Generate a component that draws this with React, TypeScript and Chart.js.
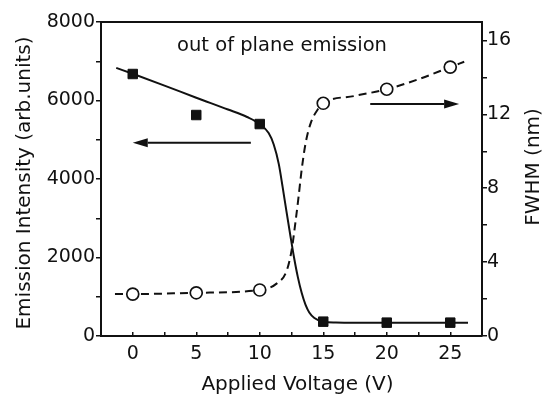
import React, { useEffect, useRef } from 'react';
import { Chart, registerables } from 'chart.js';

Chart.register(...registerables);

// Measured points
const voltage = [0, 5, 10, 15, 20, 25];
const intensity = [6675, 5630, 5400, 365, 340, 340];
const fwhm = [2.27, 2.34, 2.49, 12.6, 13.36, 14.56];

// Guide-to-the-eye curves
const intensityFitX = [-1.3, 0, 2.5, 5, 7.5, 9, 10, 10.7, 11.1, 11.5, 11.8, 12.1, 12.4, 12.7, 13.0, 13.3, 13.6, 13.9, 14.3, 15, 16, 18, 21, 24, 26.4];
const intensityFitY = [6830, 6680, 6380, 6070, 5770, 5580, 5400, 5170, 4880, 4380, 3800, 3180, 2580, 2000, 1500, 1100, 800, 600, 460, 365, 345, 338, 335, 335, 335];
const fwhmFitX = [-1.4, 0, 5, 10, 11.35, 12.1, 12.5, 12.8, 13.05, 13.3, 13.6, 14.0, 14.6, 15, 17.5, 20, 22.5, 25, 26.1];
const fwhmFitY = [2.27, 2.27, 2.34, 2.49, 2.85, 3.5, 4.6, 6.1, 7.5, 9.0, 10.4, 11.5, 12.3, 12.6, 13.0, 13.36, 13.9, 14.56, 14.85];

// Arrows pointing to the axis each series belongs to
const leftArrowX = [9.3, 0];
const leftArrowY = [4925, 4925];
const rightArrowX = [18.7, 25.7];
const rightArrowY = [12.56, 12.56];

const plotTitle = 'out of plane emission';
const xTitle = 'Applied Voltage (V)';
const yTitle = 'Emission Intensity (arb.units)';
const y1Title = 'FWHM (nm)';

const INK = '#111111';
const FONT = '"DejaVu Sans", sans-serif';

function drawArrow(ctx: CanvasRenderingContext2D, x1: number, y1: number, x2: number, y2: number) {
  const ang = Math.atan2(y2 - y1, x2 - x1);
  const headLen = 15;
  const headHalf = 4.5;
  const bx = x2 - headLen * Math.cos(ang);
  const by = y2 - headLen * Math.sin(ang);
  ctx.beginPath();
  ctx.moveTo(x1, y1);
  ctx.lineTo(bx, by);
  ctx.stroke();
  ctx.beginPath();
  ctx.moveTo(x2, y2);
  ctx.lineTo(bx + headHalf * Math.sin(ang), by - headHalf * Math.cos(ang));
  ctx.lineTo(bx - headHalf * Math.sin(ang), by + headHalf * Math.cos(ang));
  ctx.closePath();
  ctx.fill();
}

const decorations = {
  id: 'decorations',
  afterDatasetsDraw(chart: any) {
    const { ctx, chartArea, scales } = chart;
    const { left, right, top, bottom } = chartArea;
    ctx.save();
    ctx.strokeStyle = INK;
    ctx.fillStyle = INK;

    // top frame line
    ctx.lineWidth = 2;
    ctx.beginPath();
    ctx.moveTo(left - 1, top);
    ctx.lineTo(right + 1, top);
    ctx.stroke();

    // arrows
    ctx.lineWidth = 2;
    drawArrow(
      ctx,
      scales.x.getPixelForValue(leftArrowX[0]), scales.y.getPixelForValue(leftArrowY[0]),
      scales.x.getPixelForValue(leftArrowX[1]), scales.y.getPixelForValue(leftArrowY[1])
    );
    drawArrow(
      ctx,
      scales.x.getPixelForValue(rightArrowX[0]), scales.y1.getPixelForValue(rightArrowY[0]),
      scales.x.getPixelForValue(rightArrowX[1]), scales.y1.getPixelForValue(rightArrowY[1])
    );

    // texts
    ctx.textBaseline = 'alphabetic';
    ctx.textAlign = 'center';
    ctx.font = `19.5px ${FONT}`;
    ctx.fillText(plotTitle, left + 181, top + 29);

    ctx.font = `20px ${FONT}`;
    ctx.fillText(xTitle, left + 196.5, bottom + 54);

    const midY = (top + bottom) / 2;
    ctx.save();
    ctx.translate(left - 71.5, midY + 4);
    ctx.rotate(-Math.PI / 2);
    ctx.fillText(yTitle, 0, 0);
    ctx.restore();

    ctx.save();
    ctx.translate(right + 57, midY - 12);
    ctx.rotate(-Math.PI / 2);
    ctx.fillText(y1Title, 0, 0);
    ctx.restore();

    ctx.restore();
  },
};

const toPoints = (xs: number[], ys: number[]) => xs.map((x, i) => ({ x, y: ys[i] }));

export default function App() {
  const canvasRef = useRef<HTMLCanvasElement | null>(null);

  useEffect(() => {
    if (!canvasRef.current) return;
    Chart.defaults.font.family = FONT;
    Chart.defaults.color = INK;

    const chart = new Chart(canvasRef.current, {
      type: 'line',
      data: {
        datasets: [
          {
            label: 'Intensity',
            data: toPoints(voltage, intensity),
            yAxisID: 'y',
            showLine: false,
            pointStyle: 'rect',
            pointRadius: 6.7,
            pointBackgroundColor: INK,
            pointBorderColor: INK,
            pointBorderWidth: 1,
            order: 0,
          },
          {
            label: 'FWHM',
            data: toPoints(voltage, fwhm),
            yAxisID: 'y1',
            showLine: false,
            pointStyle: 'circle',
            pointRadius: 6,
            pointBackgroundColor: '#ffffff',
            pointBorderColor: INK,
            pointBorderWidth: 1.7,
            order: 0,
          },
          {
            label: 'Intensity fit',
            data: toPoints(intensityFitX, intensityFitY),
            yAxisID: 'y',
            borderColor: INK,
            borderWidth: 2,
            pointRadius: 0,
            cubicInterpolationMode: 'monotone',
            fill: false,
            order: 1,
          },
          {
            label: 'FWHM fit',
            data: toPoints(fwhmFitX, fwhmFitY),
            yAxisID: 'y1',
            borderColor: INK,
            borderWidth: 2,
            borderDash: [8, 5],
            pointRadius: 0,
            cubicInterpolationMode: 'monotone',
            fill: false,
            order: 1,
          },
        ],
      },
      options: {
        animation: false,
        responsive: false,
        devicePixelRatio: 1,
        layout: { padding: { top: 22, left: 0, right: 0, bottom: 0 } },
        plugins: {
          legend: { display: false },
          tooltip: { enabled: false },
          title: { display: false },
        },
        scales: {
          x: {
            type: 'linear',
            min: -2.5,
            max: 27.5,
            afterBuildTicks: (scale: any) => {
              scale.ticks = scale.ticks.filter((t: any) => t.value > -2.5 && t.value < 27.5);
            },
            afterFit: (scale: any) => {
              scale.height = 60;
            },
            ticks: {
              stepSize: 2.5,
              includeBounds: false,
              autoSkip: false,
              maxRotation: 0,
              padding: 11,
              font: { size: 19 },
              color: INK,
              callback: (v: any) => (Number(v) % 5 === 0 ? String(v) : ''),
            },
            grid: { drawOnChartArea: false, tickLength: -4, color: INK, lineWidth: 1.5 },
            border: { display: true, color: INK, width: 2 },
          },
          y: {
            type: 'linear',
            position: 'left',
            min: 0,
            max: 8000,
            afterFit: (scale: any) => {
              scale.width = 101;
            },
            ticks: {
              stepSize: 1000,
              autoSkip: false,
              padding: 1,
              font: { size: 19 },
              color: INK,
              callback: (v: any) => (Number(v) % 2000 === 0 ? String(v) : ''),
            },
            grid: { drawOnChartArea: false, tickLength: 5, color: INK, lineWidth: 1.5 },
            border: { display: true, color: INK, width: 2 },
          },
          y1: {
            type: 'linear',
            position: 'right',
            min: 0,
            max: 17,
            afterBuildTicks: (scale: any) => {
              scale.ticks = scale.ticks.filter((t: any) => t.value % 2 === 0 && t.value <= 16);
            },
            afterFit: (scale: any) => {
              scale.width = 64;
            },
            ticks: {
              stepSize: 2,
              includeBounds: false,
              autoSkip: false,
              padding: 0,
              font: { size: 19 },
              color: INK,
              callback: (v: any) => (Number(v) % 4 === 0 ? String(v) : ''),
            },
            grid: { drawOnChartArea: false, tickLength: 5, color: INK, lineWidth: 1.5 },
            border: { display: true, color: INK, width: 2 },
          },
        },
      },
      plugins: [decorations],
    } as any);

    return () => chart.destroy();
  }, []);

  return (
    <div style={{ position: 'fixed', left: 0, top: 0, width: 546, height: 396, background: '#ffffff' }}>
      <canvas ref={canvasRef} width={546} height={396} style={{ display: 'block' }} />
    </div>
  );
}
